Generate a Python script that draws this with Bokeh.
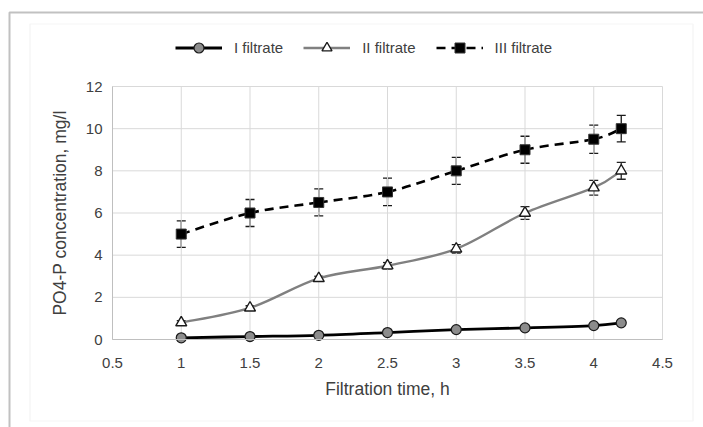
import numpy as np
from bokeh.plotting import figure
from bokeh.models import (ColumnDataSource, Whisker, TeeHead, Legend, LegendItem,
                          FixedTicker, Range1d, BoxAnnotation)
from bokeh.embed import file_html
from bokeh.resources import INLINE

# ---- data ----
time_h = [1.0, 1.5, 2.0, 2.5, 3.0, 3.5, 4.0, 4.2]
filtrate_1 = [0.08, 0.14, 0.20, 0.33, 0.47, 0.55, 0.66, 0.79]
filtrate_2 = [0.8, 1.5, 2.9, 3.5, 4.3, 6.0, 7.2, 8.0]
filtrate_3 = [5.0, 6.0, 6.5, 7.0, 8.0, 9.0, 9.5, 10.0]
err_2 = [0.1, 0.1, 0.1, 0.15, 0.2, 0.3, 0.35, 0.4]
err_3 = [0.63, 0.64, 0.64, 0.65, 0.64, 0.64, 0.67, 0.63]
series_names = ["I filtrate", "II filtrate", "III filtrate"]
x_ticks = [0.5, 1, 1.5, 2, 2.5, 3, 3.5, 4, 4.5]
x_tick_labels = ["0.5", "1", "1.5", "2", "2.5", "3", "3.5", "4", "4.5"]
y_ticks = [0, 2, 4, 6, 8, 10, 12]
y_tick_labels = ["0", "2", "4", "6", "8", "10", "12"]

FONT = "Liberation Sans"
TXT = "#404040"
GRID = "#d9d9d9"

# canvas size and placement of the plotting area (pixels)
W, H = 703, 427
AREA_L, AREA_R, AREA_T, AREA_B = 112, 662, 86, 339
x0, x1 = x_ticks[0], x_ticks[-1]
y0, y1 = y_ticks[0], y_ticks[-1]
kx = (AREA_R - AREA_L) / (x1 - x0)
ky = (AREA_B - AREA_T) / (y1 - y0)
xr = Range1d(x0 - AREA_L / kx, x1 + (W - AREA_R) / kx)
yr = Range1d(y0 - (H - AREA_B) / ky, y1 + AREA_T / ky)

p = figure(width=W, height=H, output_backend="svg", toolbar_location=None,
           x_range=xr, y_range=yr,
           min_border_left=0, min_border_right=0, min_border_top=0,
           min_border_bottom=0)
p.background_fill_color = "white"
p.border_fill_color = "white"
p.outline_line_color = None
p.xgrid.visible = False
p.ygrid.visible = False

# chart frames
p.add_layout(BoxAnnotation(left=29.5, right=692.5, top=23.5, bottom=420.5,
                           left_units="canvas", right_units="canvas",
                           top_units="canvas", bottom_units="canvas",
                           fill_alpha=0, line_color=GRID, line_width=1.2,
                           level="underlay"))
p.add_layout(BoxAnnotation(left=9, right=730, top=12, bottom=450,
                           left_units="canvas", right_units="canvas",
                           top_units="canvas", bottom_units="canvas",
                           fill_alpha=0, line_color="#333333", line_width=2,
                           level="underlay"))

for ax in (p.xaxis[0], p.yaxis[0]):
    ax.axis_line_color = "#bfbfbf"
    ax.major_tick_line_color = None
    ax.minor_tick_line_color = None
    ax.major_label_text_font = FONT
    ax.major_label_text_font_size = "15px"
    ax.major_label_text_color = TXT
    ax.axis_label_text_font = FONT
    ax.axis_label_text_font_size = "17.5px"
    ax.axis_label_text_font_style = "normal"
    ax.axis_label_text_color = TXT

p.xaxis.fixed_location = y0
p.yaxis.fixed_location = x0
p.xaxis.bounds = (x0, x1)
p.yaxis.bounds = (y0, y1)
p.xaxis.ticker = FixedTicker(ticks=x_ticks)
p.xaxis.major_label_overrides = {t: l for t, l in zip(x_ticks, x_tick_labels)}
p.yaxis.ticker = FixedTicker(ticks=y_ticks)
p.yaxis.major_label_overrides = {t: l for t, l in zip(y_ticks, y_tick_labels)}
p.xaxis.axis_label = "Filtration time, h"
p.yaxis.axis_label = "PO4-P concentration, mg/l"
p.xaxis.major_label_standoff = 12
p.yaxis.major_label_standoff = 4
p.xaxis.axis_label_standoff = 8
p.yaxis.axis_label_standoff = 13

# grid lines limited to the plotting area
p.segment(x0=x_ticks, x1=x_ticks, y0=[y0] * len(x_ticks), y1=[y1] * len(x_ticks),
          line_color=GRID, line_width=1)
p.segment(x0=[x0] * len(y_ticks), x1=[x1] * len(y_ticks), y0=y_ticks, y1=y_ticks,
          line_color=GRID, line_width=1)


def smooth_src(xs, ys):
    x = np.asarray(xs, float)
    y = np.asarray(ys, float)
    xp = np.concatenate([[x[0]], x, [x[-1]]])
    yp = np.concatenate([[y[0]], y, [y[-1]]])
    n = len(x)
    i = np.arange(n - 1)
    cx0 = x[i] + (xp[i + 2] - xp[i]) / 6.0
    cy0 = y[i] + (yp[i + 2] - yp[i]) / 6.0
    cx1 = x[i + 1] - (xp[i + 3] - xp[i + 1]) / 6.0
    cy1 = y[i + 1] - (yp[i + 3] - yp[i + 1]) / 6.0
    return ColumnDataSource(dict(x0=x[:-1], y0=y[:-1], x1=x[1:], y1=y[1:],
                                 cx0=cx0, cy0=cy0, cx1=cx1, cy1=cy1))


# error bars
src2 = ColumnDataSource(dict(x=time_h, y=filtrate_2,
                             lo=np.array(filtrate_2) - np.array(err_2),
                             hi=np.array(filtrate_2) + np.array(err_2)))
src3 = ColumnDataSource(dict(x=time_h, y=filtrate_3,
                             lo=np.array(filtrate_3) - np.array(err_3),
                             hi=np.array(filtrate_3) + np.array(err_3)))
for s, col in ((src2, "#262626"), (src3, "#1a1a1a")):
    w = Whisker(source=s, base="x", lower="lo", upper="hi", line_color=col,
                line_width=1.3,
                upper_head=TeeHead(size=9, line_color=col, line_width=1.3),
                lower_head=TeeHead(size=9, line_color=col, line_width=1.3))
    p.add_layout(w)

# lines
l1 = p.bezier(x0="x0", y0="y0", x1="x1", y1="y1", cx0="cx0", cy0="cy0",
              cx1="cx1", cy1="cy1", source=smooth_src(time_h, filtrate_1),
              line_color="black", line_width=2.8)
l2 = p.bezier(x0="x0", y0="y0", x1="x1", y1="y1", cx0="cx0", cy0="cy0",
              cx1="cx1", cy1="cy1", source=smooth_src(time_h, filtrate_2),
              line_color="#808080", line_width=2.4)
l3 = p.bezier(x0="x0", y0="y0", x1="x1", y1="y1", cx0="cx0", cy0="cy0",
              cx1="cx1", cy1="cy1", source=smooth_src(time_h, filtrate_3),
              line_color="black", line_width=2.6, line_dash="9 6")

# markers
m1 = p.scatter(time_h, filtrate_1, marker="circle", size=10,
               fill_color="#8c8c8c", line_color="#1a1a1a", line_width=1.2)
m2 = p.scatter(time_h, filtrate_2, marker="triangle", size=11,
               fill_color="white", line_color="#1a1a1a", line_width=1.4)
m3 = p.scatter(time_h, filtrate_3, marker="square", size=10,
               fill_color="black", line_color="#333333", line_width=1)

legend = Legend(items=[LegendItem(label=series_names[0], renderers=[l1, m1]),
                       LegendItem(label=series_names[1], renderers=[l2, m2]),
                       LegendItem(label=series_names[2], renderers=[l3, m3])],
                orientation="horizontal", location=(175, 367),
                border_line_color=None, background_fill_alpha=0,
                label_text_font=FONT, label_text_font_size="15px",
                label_text_color=TXT, glyph_width=47, glyph_height=25,
                label_standoff=12, spacing=20, padding=0, margin=0)
p.add_layout(legend, "center")

open("out.html", "w").write(file_html(p, INLINE))
